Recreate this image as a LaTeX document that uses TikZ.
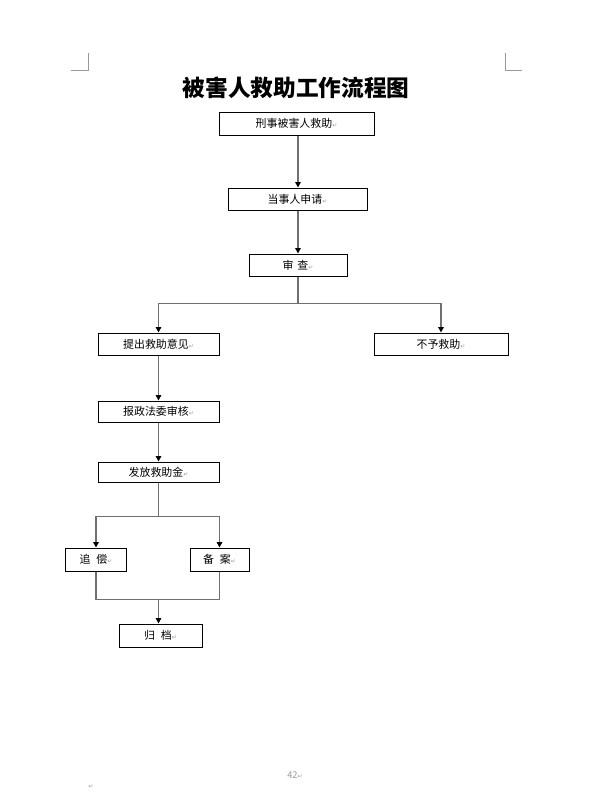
\documentclass[tikz,border=0pt]{standalone}
\usepackage{fontspec}
\setmainfont{Noto Sans CJK SC}
\newfontfamily\symfont{DejaVu Sans}
\usetikzlibrary{arrows.meta}
\definecolor{mLine}{HTML}{707070}
\definecolor{mMark}{HTML}{999999}
\newcommand{\pmark}{{\symfont\fontsize{4.5pt}{5pt}\selectfont\textcolor{mMark}{↵}}}

\begin{document}
\begin{tikzpicture}[x=0.75pt, y=-0.75pt,
    box/.style n args={2}{draw, line width=0.75pt, inner sep=0pt,
      minimum width=#1*0.75pt, minimum height=#2*0.75pt,
      font=\fontsize{8.2pt}{10pt}\selectfont},
    link/.style={draw=mLine, line width=1pt},
    arr/.style={link, -{Triangle[width=4pt, length=4pt, color=black]}}]
    \useasboundingbox (0,0) rectangle (594,811);
    % page corner marks
    \draw[mMark, line width=0.75pt] (71,70) -- (88,70) -- (88,53);
    \draw[mMark, line width=0.75pt] (505,53) -- (505,70) -- (522,70);
    \node[font=\bfseries\fontsize{17pt}{20pt}\selectfont] (title) at (296,88) {被害人救助工作流程图};
    % boxes
    \node[box={155}{23}] (victim) at (296.5,123.5) {刑事被害人救助\pmark};
    \node[box={139}{22}] (apply) at (297.5,199) {当事人申请\pmark};
    \node[box={98}{22}] (review) at (298,265) {审\hspace{3pt}查\pmark};
    \node[box={121}{22}] (propose) at (158.5,344) {提出救助意见\pmark};
    \node[box={134}{22}] (refuse) at (441,344) {不予救助\pmark};
    \node[box={121}{21}] (report) at (158.5,411.5) {报政法委审核\pmark};
    \node[box={121}{20}] (grant) at (158.5,472) {发放救助金\pmark};
    \node[box={61}{23}] (recover) at (96,559.5) {追\hspace{4.5pt}偿\pmark};
    \node[box={59}{23}] (record) at (219.5,559.5) {备\hspace{4.5pt}案\pmark};
    \node[box={83}{23}] (archive) at (160.5,635.5) {归\hspace{4.5pt}档\pmark};
    % connectors
    \draw[arr] (victim.south -| review) -- (apply.north -| review);
    \draw[arr] (apply.south -| review) -- (review.north);
    \draw[link] (review.south) -- ++(0,27) coordinate (split1);
    \draw[arr] (split1) -| (propose.north);
    \draw[arr] (split1) -| (refuse.north);
    \draw[arr] (propose) -- (report);
    \draw[arr] (report) -- (grant);
    \draw[link] (grant.south) -- ++(0,34) coordinate (split2);
    \draw[arr] (split2) -| (recover.north);
    \draw[arr] (split2) -| (record.north);
    \draw[link] (recover.south) -- ++(0,28) coordinate (join) -| (record.south);
    \draw[arr] (join -| split2) -- (archive.north -| split2);
    % footer
    \node[font=\fontsize{7pt}{8pt}\selectfont, text=mMark] (page) at (295,775) {42\pmark};
    \node (endmark) at (91,787) {\pmark};
\end{tikzpicture}
\end{document}
